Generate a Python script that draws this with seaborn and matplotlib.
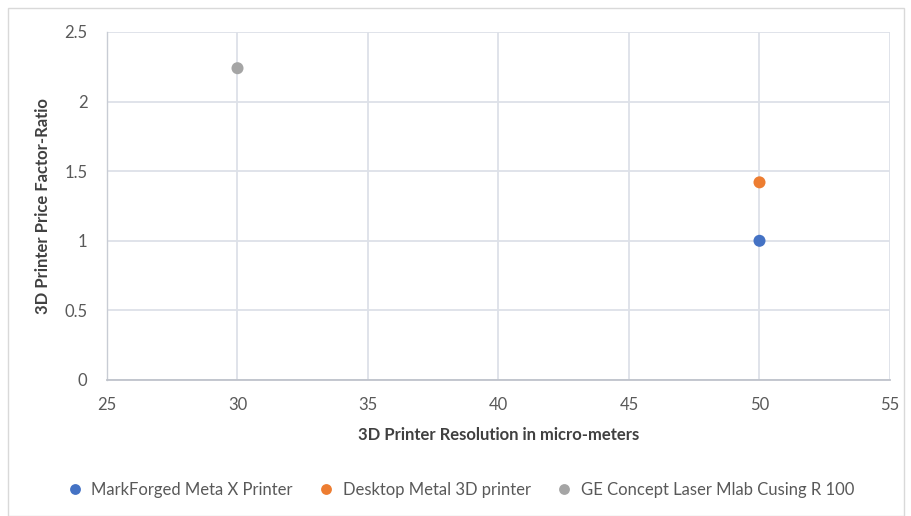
import matplotlib
matplotlib.use("Agg")
import matplotlib.pyplot as plt
import seaborn as sns
import pandas as pd
from matplotlib.patches import Rectangle

printers = ["MarkForged Meta X Printer", "Desktop Metal 3D printer", "GE Concept Laser Mlab Cusing R 100"]
resolution = [50, 50, 30]
price_ratio = [1.0, 1.42, 2.24]
colors = ["#4472C4", "#ED7D31", "#A5A5A5"]
x_ticks = [25, 30, 35, 40, 45, 50, 55]
y_ticks = [0, 0.5, 1, 1.5, 2, 2.5]
y_tick_labels = ["0", "0.5", "1", "1.5", "2", "2.5"]

df = pd.DataFrame({"printer": printers, "res": resolution, "ratio": price_ratio})

sns.set_theme(style="white")
plt.rcParams["font.family"] = ["Lato", "DejaVu Sans"]

fig = plt.figure(figsize=(9.12, 5.16), dpi=100)
fig.patches.append(Rectangle((8/912, 0), 1 - 16/912, 1 - 8/516, transform=fig.transFigure,
                             fill=False, edgecolor="#D9D9D9", linewidth=1.0))
ax = fig.add_axes([107/912, 1 - 380/516, (890 - 107)/912, (380 - 32)/516])

sns.scatterplot(data=df, x="res", y="ratio", hue="printer", hue_order=printers,
                palette=colors, s=75, edgecolor="none", ax=ax, legend=True, zorder=3)

ax.set_xlim(25, 55)
ax.set_ylim(0, 2.5)
ax.set_xticks(x_ticks)
ax.set_yticks(y_ticks)
ax.set_yticklabels(y_tick_labels)
ax.grid(True, color="#DDE1E8", linewidth=1.3)
ax.set_axisbelow(True)
for s in ["top", "right"]:
    ax.spines[s].set_visible(False)
ax.spines["left"].set_color("#C8CCD4")
ax.spines["bottom"].set_color("#BFC3CB")
ax.spines["left"].set_linewidth(1.0)
ax.spines["bottom"].set_linewidth(1.3)
ax.tick_params(axis="both", length=0, labelsize=12, colors="#595959", pad=12)
ax.tick_params(axis="y", pad=14)

ax.set_xlabel("3D Printer Resolution in micro-meters", fontsize=12, fontweight="bold",
              color="#404040", labelpad=10)
ax.set_ylabel("3D Printer Price Factor-Ratio", fontsize=12, fontweight="bold",
              color="#404040", labelpad=10)

handles, labels = ax.get_legend_handles_labels()
ax.get_legend().remove()
fig.legend(handles=handles, labels=labels, loc="center", bbox_to_anchor=(0.5, 1 - 490/516),
           ncol=3, frameon=False, fontsize=12, labelcolor="#595959", handletextpad=0.0,
           columnspacing=1.0, markerscale=0.9)

fig.savefig("out.png", dpi=100)
